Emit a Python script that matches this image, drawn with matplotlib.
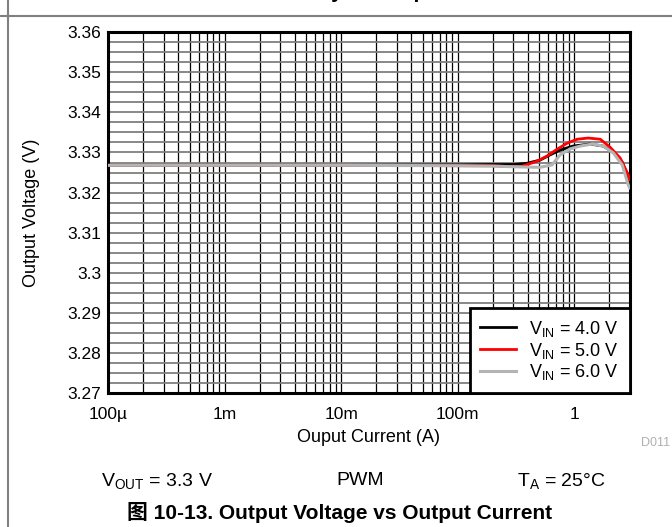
import matplotlib
matplotlib.use('Agg')
import matplotlib.pyplot as plt
import numpy as np
from matplotlib.ticker import FixedLocator, FixedFormatter, LogLocator

plt.rcParams['font.family'] = ['Liberation Sans', 'Noto Sans CJK SC', 'DejaVu Sans']
plt.rcParams['mathtext.default'] = 'regular'

# Data (current in A, voltage in V)
i_vin4 = [1e-4, 1e-3, 1e-2, 0.1, 0.2, 0.3, 0.393, 0.51, 0.621, 0.758, 0.98, 1.37, 1.78, 2.17, 2.59, 2.92, 3.0]
v_vin4 = [3.3268, 3.3268, 3.3268, 3.3269, 3.3270, 3.3270, 3.3273, 3.3281, 3.3294, 3.3306, 3.3316, 3.3321, 3.3316, 3.3301, 3.3276, 3.3237, 3.3225]

i_vin5 = [1e-4, 1e-3, 1e-2, 0.1, 0.2, 0.264, 0.35, 0.48, 0.585, 0.714, 0.87, 1.06, 1.32, 1.68, 2.04, 2.49, 2.92, 3.0]
v_vin5 = [3.3268, 3.3268, 3.3268, 3.3267, 3.3267, 3.3265, 3.3265, 3.3278, 3.3291, 3.3308, 3.3323, 3.3333, 3.3336, 3.3333, 3.3313, 3.3286, 3.3244, 3.3232]

i_vin6 = [1e-4, 1e-3, 1e-2, 0.1, 0.2, 0.343, 0.51, 0.646, 0.758, 0.924, 1.13, 1.43, 1.78, 2.17, 2.59, 2.92, 3.0]
v_vin6 = [3.3268, 3.3268, 3.3268, 3.3267, 3.3266, 3.3264, 3.3263, 3.3269, 3.3294, 3.3309, 3.3316, 3.3321, 3.3316, 3.3299, 3.3269, 3.3219, 3.3212]

labels = ['V$_{IN}$ = 4.0 V', 'V$_{IN}$ = 5.0 V', 'V$_{IN}$ = 6.0 V']
colors = ['#000000', '#ff0000', '#b4b4b4']

x_ticks = [1e-4, 1e-3, 1e-2, 1e-1, 1]
x_ticklabels = ['100\u00b5', '1m', '10m', '100m', '1']
y_ticks = [3.27, 3.28, 3.29, 3.3, 3.31, 3.32, 3.33, 3.34, 3.35, 3.36]
y_ticklabels = ['3.27', '3.28', '3.29', '3.3', '3.31', '3.32', '3.33', '3.34', '3.35', '3.36']

fig = plt.figure(figsize=(6.72, 5.27), dpi=100)
ax = fig.add_axes([0.161, 0.254, 0.776, 0.685])

ax.plot(i_vin4, v_vin4, color=colors[0], lw=2.0, label=labels[0], zorder=3)
ax.plot(i_vin5, v_vin5, color=colors[1], lw=2.0, label=labels[1], zorder=4)
ax.plot(i_vin6, v_vin6, color=colors[2], lw=2.2, label=labels[2], zorder=5)

ax.set_xscale('log')
ax.set_xlim(1e-4, 3)
ax.set_ylim(3.27, 3.36)

ax.xaxis.set_major_locator(FixedLocator(x_ticks))
ax.xaxis.set_major_formatter(FixedFormatter(x_ticklabels))
ax.xaxis.set_minor_locator(LogLocator(base=10, subs=np.arange(2, 10)))
ax.xaxis.set_minor_formatter(plt.NullFormatter())
ax.yaxis.set_major_locator(FixedLocator(y_ticks))
ax.yaxis.set_major_formatter(FixedFormatter(y_ticklabels))
ax.yaxis.set_minor_locator(FixedLocator(np.arange(3.27, 3.3601, 0.0025)))

ax.tick_params(which='both', length=0, labelsize=12.5)
ax.tick_params(axis='x', pad=10)
ax.tick_params(axis='y', pad=5)
ax.grid(True, axis='x', which='both', color='black', lw=0.9)
ax.grid(True, axis='y', which='both', color='#7f7f7f', lw=1.3)
ax.set_axisbelow(True)
for s in ax.spines.values():
    s.set_linewidth(2.2)

ax.set_xlabel('Ouput Current (A)', fontsize=13, labelpad=5)
ax.set_ylabel('Output Voltage (V)', fontsize=13, labelpad=20)

leg = ax.legend(loc='lower right', fontsize=13, frameon=True, fancybox=False,
                borderaxespad=0, handlelength=2.0, labelspacing=0.1,
                borderpad=0.6, handletextpad=0.7)
leg.get_frame().set_edgecolor('black')
leg.get_frame().set_linewidth(2.0)
leg.get_frame().set_alpha(1)

# page decorations
fig.add_artist(plt.Line2D([0, 1], [1 - 16 / 527, 1 - 16 / 527], color='#808080', lw=1.5))
fig.add_artist(plt.Line2D([8 / 672, 8 / 672], [0, 1], color='#808080', lw=1.5))
fig.text(0.505, 1.017, '图 10-12. Efficiency vs Output Current', ha='center', va='center',
         fontsize=15, fontweight='bold')
fig.text(0.975, 0.16, 'D011', ha='center', va='center', fontsize=9, color='#b0b0b0')
fig.text(0.234, 0.088, 'V$_{OUT}$ = 3.3 V', ha='center', va='center', fontsize=14)
fig.text(0.536, 0.088, 'PWM', ha='center', va='center', fontsize=14)
fig.text(0.835, 0.088, 'T$_{A}$ = 25°C', ha='center', va='center', fontsize=14)
fig.text(0.505, 0.027, '图 10-13. Output Voltage vs Output Current', ha='center', va='center',
         fontsize=15, fontweight='bold')

fig.savefig('out.png', dpi=100)
